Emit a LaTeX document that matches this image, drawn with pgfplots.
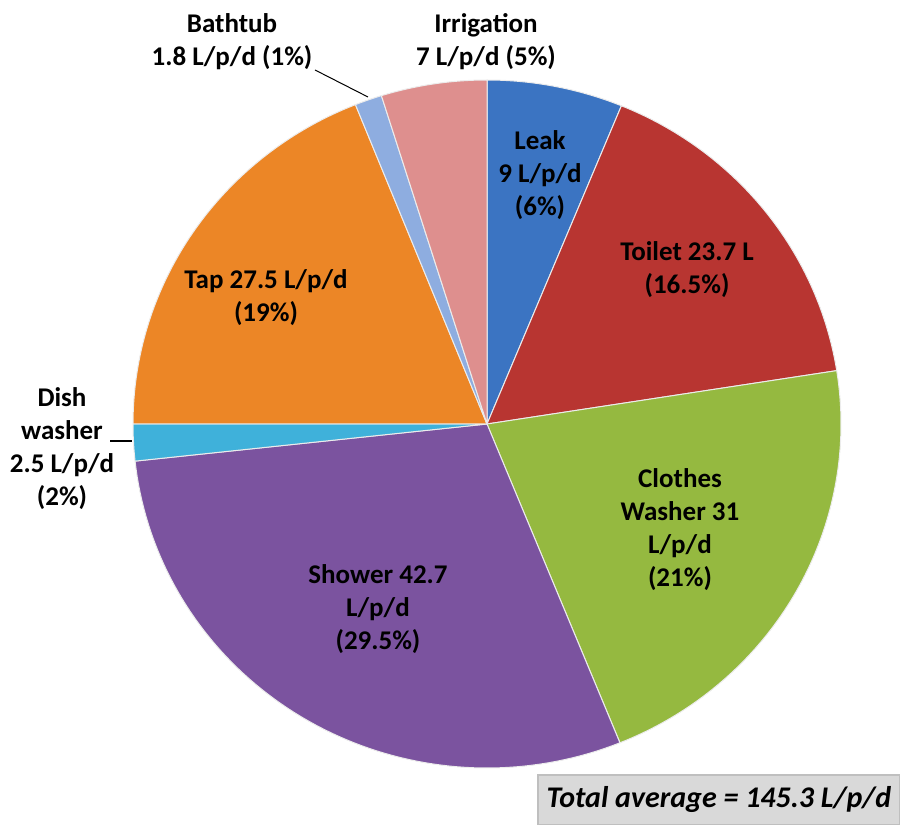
\documentclass[border=0pt]{standalone}
\usepackage{pgfplots}
\usepackage{pgfplotstable}
\pgfplotsset{compat=1.18}
\usepackage{fontspec}
\setmainfont{Carlito}
\definecolor{cLeak}{HTML}{3B74C2}
\definecolor{cToilet}{HTML}{B83531}
\definecolor{cClothes}{HTML}{95B940}
\definecolor{cShower}{HTML}{7B539F}
\definecolor{cDish}{HTML}{3FB1DA}
\definecolor{cTap}{HTML}{EC8626}
\definecolor{cBath}{HTML}{8EADE0}
\definecolor{cIrr}{HTML}{DE8F8E}
\definecolor{boxfill}{HTML}{D9D9D9}
\definecolor{boxline}{HTML}{BFBFBF}
\pgfplotstableread{
name value
Leak 9
Toilet 23.7
Clothes 31
Shower 42.7
Dish 2.5
Tap 27.5
Bathtub 1.8
Irrigation 7
}\piedata
\begin{document}
\begin{tikzpicture}
\pgfplotstablegetelem{0}{value}\of\piedata \pgfmathsetmacro\vA{\pgfplotsretval}
\pgfplotstablegetelem{1}{value}\of\piedata \pgfmathsetmacro\vB{\pgfplotsretval}
\pgfplotstablegetelem{2}{value}\of\piedata \pgfmathsetmacro\vC{\pgfplotsretval}
\pgfplotstablegetelem{3}{value}\of\piedata \pgfmathsetmacro\vD{\pgfplotsretval}
\pgfplotstablegetelem{4}{value}\of\piedata \pgfmathsetmacro\vE{\pgfplotsretval}
\pgfplotstablegetelem{5}{value}\of\piedata \pgfmathsetmacro\vF{\pgfplotsretval}
\pgfplotstablegetelem{6}{value}\of\piedata \pgfmathsetmacro\vG{\pgfplotsretval}
\pgfplotstablegetelem{7}{value}\of\piedata \pgfmathsetmacro\vH{\pgfplotsretval}
\pgfmathsetmacro\total{\vA+\vB+\vC+\vD+\vE+\vF+\vG+\vH}
\pgfmathsetmacro\bA{90}
\pgfmathsetmacro\bB{\bA-360*\vA/\total}
\pgfmathsetmacro\bC{\bB-360*\vB/\total}
\pgfmathsetmacro\bD{\bC-360*\vC/\total}
\pgfmathsetmacro\bE{\bD-360*\vD/\total}
\pgfmathsetmacro\bF{\bE-360*\vE/\total}
\pgfmathsetmacro\bG{\bF-360*\vF/\total}
\pgfmathsetmacro\bH{\bG-360*\vG/\total}
\pgfmathsetmacro\bI{\bH-360*\vH/\total}
\useasboundingbox (0,0) rectangle (450pt,412.5pt);
\begin{axis}[
  at={(0,0)}, anchor=origin,
  x=0.5pt, y=0.5pt,
  xmin=0, xmax=900, ymin=0, ymax=825,
  hide axis, clip=false,
  samples=80, variable=\t,
  every axis plot/.append style={draw=white!85!gray, line width=0.5pt, line join=round},
]
\addplot[fill=cLeak,    domain=\bB:\bA] ({487+354*cos(t)},{401+344*sin(t)}) -- (axis cs:487,401) -- cycle;
\addplot[fill=cToilet,  domain=\bC:\bB] ({487+354*cos(t)},{401+344*sin(t)}) -- (axis cs:487,401) -- cycle;
\addplot[fill=cClothes, domain=\bD:\bC] ({487+354*cos(t)},{401+344*sin(t)}) -- (axis cs:487,401) -- cycle;
\addplot[fill=cShower,  domain=\bE:\bD] ({487+354*cos(t)},{401+344*sin(t)}) -- (axis cs:487,401) -- cycle;
\addplot[fill=cDish,    domain=\bF:\bE] ({487+354*cos(t)},{401+344*sin(t)}) -- (axis cs:487,401) -- cycle;
\addplot[fill=cTap,     domain=\bG:\bF] ({487+354*cos(t)},{401+344*sin(t)}) -- (axis cs:487,401) -- cycle;
\addplot[fill=cBath,    domain=\bH:\bG] ({487+354*cos(t)},{401+344*sin(t)}) -- (axis cs:487,401) -- cycle;
\addplot[fill=cIrr,     domain=\bI:\bH] ({487+354*cos(t)},{401+344*sin(t)}) -- (axis cs:487,401) -- cycle;
% leader lines
\draw[black, line width=0.5pt] (axis cs:315,755) -- (axis cs:368,728);
\draw[black, line width=0.6pt] (axis cs:110,384) -- (axis cs:132,384);
% labels
\begin{scope}[every node/.style={align=center, font=\fontsize{13.5}{16.5}\selectfont\bfseries, inner sep=0pt, text=black}]
\node at (axis cs:232,783) {Bathtub\\1.8 L/p/d (1\%)};
\node at (axis cs:486,783) {Irrigation\\7 L/p/d (5\%)};
\node at (axis cs:540,650) {Leak\\9 L/p/d\\(6\%)};
\node at (axis cs:687,555) {Toilet 23.7 L\\(16.5\%)};
\node at (axis cs:266,527) {Tap 27.5 L/p/d\\(19\%)};
\node at (axis cs:62,376) {Dish\\washer\\2.5 L/p/d\\(2\%)};
\node at (axis cs:680,295) {Clothes\\Washer 31\\L/p/d\\(21\%)};
\node at (axis cs:378,216) {Shower 42.7\\L/p/d\\(29.5\%)};
\end{scope}
\node[fill=boxfill, draw=boxline, line width=0.8pt, minimum width=181pt, minimum height=25pt, inner sep=0pt,
  font=\fontsize{15}{16.5}\selectfont\bfseries\itshape] at (axis cs:719,25) {Total average = 145.3 L/p/d};
\end{axis}
\end{tikzpicture}
\end{document}
